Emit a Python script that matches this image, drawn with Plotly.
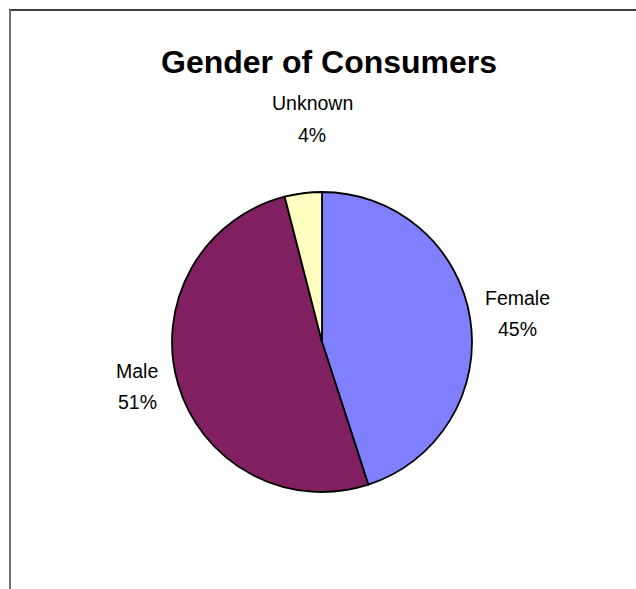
import plotly.graph_objects as go

# ---- data ----
categories = ["Female", "Male", "Unknown"]
values = [45, 51, 4]
colors = ["#8080FF", "#802060", "#FFFFC0"]

# ---- layout constants ----
W, H = 636, 589
CX, CY, R = 322, 342, 150          # pie centre / radius in pixels
label_pos = [(517, 313), (137, 386), (312, 119)]   # label block centres (px)
LINE_GAP = 31                       # px between name and percent lines
FONT = "Liberation Sans, Arial, sans-serif"

fig = go.Figure()
fig.add_trace(go.Pie(
    labels=categories,
    values=values,
    marker=dict(colors=colors, line=dict(color="#000000", width=1.8)),
    sort=False,
    direction="clockwise",
    rotation=0,
    textinfo="none",
    hoverinfo="label+percent",
    showlegend=False,
    domain=dict(x=[(CX - R) / W, (CX + R) / W],
                y=[1 - (CY + R) / H, 1 - (CY - R) / H]),
))

annotations = []
total = sum(values)
for cat, v, (px, py) in zip(categories, values, label_pos):
    pct = f"{round(v / total * 100)}%"
    for txt, yy in ((cat, py - LINE_GAP / 2), (pct, py + LINE_GAP / 2)):
        annotations.append(dict(
            x=px / W, y=1 - yy / H, xref="paper", yref="paper",
            text=txt, showarrow=False, xanchor="center", yanchor="middle",
            font=dict(family=FONT, size=19.5, color="#000000"),
        ))

annotations.append(dict(
    x=CX / W + 7 / W, y=1 - 62 / H, xref="paper", yref="paper",
    text="<b>Gender of Consumers</b>", showarrow=False,
    xanchor="center", yanchor="middle",
    font=dict(family=FONT, size=32, color="#000000"),
))

shapes = [
    dict(type="line", xref="paper", yref="paper",
         x0=9 / W, x1=1, y0=1 - 10 / H, y1=1 - 10 / H,
         line=dict(color="#000000", width=1.5)),
    dict(type="line", xref="paper", yref="paper",
         x0=10 / W, x1=10 / W, y0=0, y1=1 - 10 / H,
         line=dict(color="#707070", width=2)),
]

fig.update_layout(
    width=W, height=H,
    margin=dict(l=0, r=0, t=0, b=0),
    paper_bgcolor="#FFFFFF", plot_bgcolor="#FFFFFF",
    annotations=annotations, shapes=shapes,
    font=dict(family=FONT),
)

fig.write_html("out.html")
